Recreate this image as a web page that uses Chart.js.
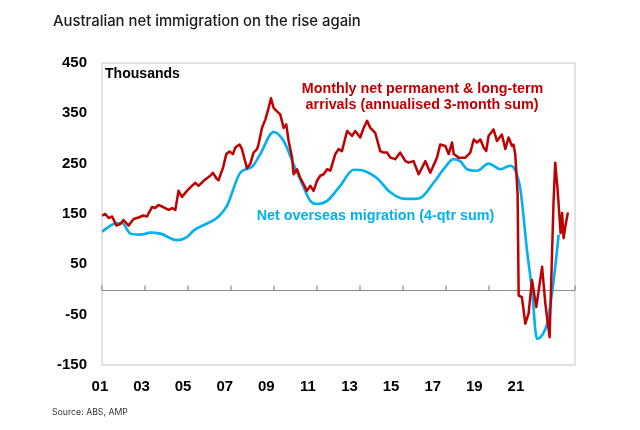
<!DOCTYPE html>
<html>
<head>
<meta charset="utf-8">
<script src="https://cdn.jsdelivr.net/npm/chart.js@4.4.0/dist/chart.umd.min.js"></script>
<style>
html, body { margin: 0; padding: 0; background: #fff; }
#wrap { width: 640px; height: 430px; }
</style>
</head>
<body>
<div id="wrap"><canvas id="myChart" width="640" height="430"></canvas></div>
<script>
// monthly net permanent & long-term arrivals (annualised 3-month sum), '000
var arrivalYears = [2001.00, 2001.15, 2001.31, 2001.47, 2001.67, 2001.85, 2002.00, 2002.24, 2002.47, 2002.70,
    2002.93, 2003.09, 2003.33, 2003.48, 2003.63, 2003.87, 2004.10, 2004.26, 2004.41, 2004.56,
    2004.72, 2004.95, 2005.11, 2005.34, 2005.49, 2005.73, 2005.88, 2006.04, 2006.16, 2006.32,
    2006.42, 2006.63, 2006.78, 2006.93, 2007.09, 2007.20, 2007.40, 2007.51, 2007.74, 2007.90,
    2008.05, 2008.21, 2008.28, 2008.44, 2008.60, 2008.75, 2008.86, 2008.98, 2009.14, 2009.29,
    2009.45, 2009.57, 2009.68, 2009.84, 2009.91, 2010.07, 2010.22, 2010.38, 2010.53, 2010.69,
    2010.84, 2011.00, 2011.15, 2011.31, 2011.47, 2011.62, 2011.85, 2012.00, 2012.16, 2012.40,
    2012.63, 2012.78, 2013.01, 2013.17, 2013.33, 2013.48, 2013.71, 2013.94, 2014.10, 2014.26,
    2014.41, 2014.64, 2014.87, 2015.11, 2015.26, 2015.49, 2015.73, 2016.04, 2016.27, 2016.58,
    2016.73, 2016.97, 2017.12, 2017.28, 2017.36, 2017.59, 2017.90, 2018.13, 2018.29, 2018.44,
    2018.60, 2018.75, 2018.87, 2018.98, 2019.21, 2019.37, 2019.60, 2019.76, 2019.91, 2020.07,
    2020.14, 2020.22, 2020.33, 2020.38, 2020.53, 2020.69, 2020.84, 2021.00, 2021.20, 2021.47,
    2021.62, 2021.82, 2022.00, 2022.08, 2022.19, 2022.33, 2022.40, 2022.47, 2022.55, 2022.67]
var arrivalValues = [147, 150, 142, 145, 127, 130, 138, 127, 140, 143,
    147, 145, 164, 162, 168, 163, 158, 162, 158, 196,
    184, 196, 203, 212, 206, 216, 221, 226, 232, 221,
    217, 242, 269, 274, 269, 282, 288, 279, 241, 250,
    272, 279, 288, 321, 338, 361, 380, 361, 354, 348,
    321, 328, 295, 262, 229, 239, 222, 209, 196, 206,
    196, 216, 226, 229, 239, 236, 269, 279, 275, 315,
    305, 315, 302, 321, 335, 321, 311, 275, 272, 272,
    262, 259, 272, 255, 252, 255, 229, 255, 232, 262,
    288, 285, 269, 292, 269, 262, 262, 272, 298, 292,
    298, 282, 275, 305, 318, 295, 308, 279, 302, 285,
    288, 269, 190, -12, -15, -68, -48, 19, -35, 45,
    -28, -95, 172, 252, 199, 112, 152, 102, 125, 153]

// net overseas migration (4-qtr sum), '000
var nomYears = [2001.00, 2001.54, 2001.93, 2002.32, 2002.78, 2003.25, 2003.71, 2004.49, 2004.95, 2005.26,
    2006.42, 2006.81, 2007.43, 2007.98, 2008.36, 2008.98, 2009.45, 2009.91, 2010.38, 2010.69,
    2011.00, 2011.47, 2012.08, 2012.70, 2013.17, 2013.79, 2014.41, 2014.87, 2015.34, 2015.80,
    2016.42, 2016.89, 2017.35, 2017.66, 2017.98, 2018.44, 2018.98, 2019.53, 2019.99, 2020.23,
    2020.46, 2020.77, 2021.00, 2021.23, 2021.47, 2021.70, 2021.93, 2022.08, 2022.24]
var nomValues = [115, 130, 132, 111, 109, 113, 111, 98, 104, 117,
    145, 166, 232, 244, 269, 313, 295, 249, 203, 176,
    170, 176, 206, 238, 236, 221, 193, 182, 180, 182,
    212, 239, 259, 255, 239, 236, 250, 239, 246, 236,
    199, 77, -2, -98, -91, -68, -8, 45, 109]

var yearTicks = [2001, 2003, 2005, 2007, 2009, 2011, 2013, 2015, 2017, 2019, 2021]
var valueTicks = [-150, -50, 50, 150, 250, 350, 450]

var RED = '#c00000'
var BLUE = '#00b0f0'

function toPoints(xs, ys) {
    return xs.map(function (x, i) { return { x: x, y: ys[i] } })
}

// draws text scaled so it spans the given width
function fitText(c, text, x, y, w, weight, family, color, align) {
    c.font = weight + ' 20px ' + family
    var size = 20 * w / c.measureText(text).width
    c.font = weight + ' ' + size.toFixed(2) + 'px ' + family
    c.fillStyle = color
    c.textAlign = align || 'left'
    c.textBaseline = 'alphabetic'
    c.fillText(text, x, y)
    return size
}

var framePlugin = {
    id: 'frame',
    beforeDatasetsDraw: function (chart) {
        var c = chart.ctx, a = chart.chartArea
        var xs = chart.scales.x, ys = chart.scales.y
        c.save()
        c.strokeStyle = '#d9d9d9'
        c.lineWidth = 1.5
        c.strokeRect(a.left, a.top, a.right - a.left, a.bottom - a.top)
        var y0 = Math.round(ys.getPixelForValue(0)) + 0.5
        c.strokeStyle = '#8c8c8c'
        c.lineWidth = 1.2
        c.beginPath()
        c.moveTo(a.left, y0)
        c.lineTo(a.right, y0)
        for (var yr = 2001; yr <= 2023; yr += 2) {
            var px = xs.getPixelForValue(yr)
            c.moveTo(px, y0)
            c.lineTo(px, y0 - 5)
        }
        c.stroke()
        c.restore()
    },
    afterDraw: function (chart) {
        var c = chart.ctx
        c.save()
        fitText(c, 'Australian net immigration on the rise again', 53, 26, 308, '500', 'Inter', '#1a1a1a')
        fitText(c, 'Source: ABS, AMP', 52, 415, 76, '400', 'Inter', '#333')
        fitText(c, 'Thousands', 105, 78, 75, 'bold', '"Liberation Sans"', '#000')
        fitText(c, 'Monthly net permanent & long-term', 422.5, 93, 241.6, 'bold', '"Liberation Sans"', RED, 'center')
        c.fillText('arrivals (annualised 3-month sum)', 422, 108.8)
        fitText(c, 'Net overseas migration (4-qtr sum)', 256.7, 219.5, 237.6, 'bold', '"Liberation Sans"', BLUE)
        c.restore()
    }
}

var tickFont = { family: '"Liberation Sans", Arial, sans-serif', size: 15, weight: 'bold' }

var ctx = document.getElementById('myChart').getContext('2d')
var myChart = new Chart(ctx, {
    type: 'line',
    data: {
        datasets: [{
            label: 'Monthly net permanent & long-term arrivals (annualised 3-month sum)',
            data: toPoints(arrivalYears, arrivalValues),
            borderColor: RED,
            borderWidth: 2.5,
            borderJoinStyle: 'round',
            pointRadius: 0,
            tension: 0
        }, {
            label: 'Net overseas migration (4-qtr sum)',
            data: toPoints(nomYears, nomValues),
            borderColor: BLUE,
            borderWidth: 2.6,
            borderJoinStyle: 'round',
            pointRadius: 0,
            cubicInterpolationMode: 'monotone'
        }]
    },
    options: {
        responsive: false,
        animation: false,
        layout: { padding: { top: 63, right: 65, left: 0, bottom: 0 } },
        plugins: { legend: { display: false }, tooltip: { enabled: false } },
        scales: {
            x: { type: 'linear', min: 2001, max: 2023, display: false },
            xl: {
                type: 'linear',
                position: 'bottom',
                min: 2001.1,
                max: 2023.84,
                grid: { display: false, drawTicks: false },
                border: { display: false },
                ticks: {
                    padding: 13,
                    color: '#000',
                    font: tickFont,
                    autoSkip: false,
                    maxRotation: 0,
                    callback: function (v) { return String(v).slice(2) }
                },
                afterBuildTicks: function (axis) {
                    axis.ticks = yearTicks.map(function (v) { return { value: v } })
                },
                afterFit: function (axis) { axis.height = 65 }
            },
            y: {
                min: -150,
                max: 450,
                grid: { display: false, drawTicks: false },
                border: { display: false },
                ticks: { padding: 15, color: '#000', font: tickFont },
                afterBuildTicks: function (axis) {
                    axis.ticks = valueTicks.map(function (v) { return { value: v } })
                },
                afterFit: function (axis) { axis.width = 102 }
            }
        }
    },
    plugins: [framePlugin]
})
</script>
</body>
</html>
